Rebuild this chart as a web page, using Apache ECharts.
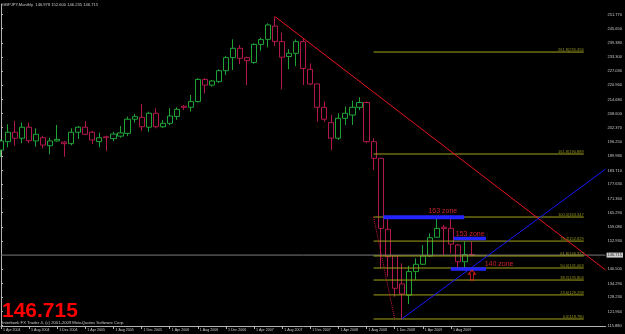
<!DOCTYPE html>
<html><head><meta charset="utf-8">
<script src="https://cdn.jsdelivr.net/npm/echarts@6/dist/echarts.min.js"></script>
<style>html,body{margin:0;padding:0;background:#000;}#c{width:625px;height:334px;}</style>
</head><body><div id="c"></div>
<script>
// ---- data ----
const months = ['Apr 2004','May 2004','Jun 2004','Jul 2004','Aug 2004','Sep 2004','Oct 2004','Nov 2004','Dec 2004',
'Jan 2005','Feb 2005','Mar 2005','Apr 2005','May 2005','Jun 2005','Jul 2005','Aug 2005','Sep 2005','Oct 2005','Nov 2005','Dec 2005',
'Jan 2006','Feb 2006','Mar 2006','Apr 2006','May 2006','Jun 2006','Jul 2006','Aug 2006','Sep 2006','Oct 2006','Nov 2006','Dec 2006',
'Jan 2007','Feb 2007','Mar 2007','Apr 2007','May 2007','Jun 2007','Jul 2007','Aug 2007','Sep 2007','Oct 2007','Nov 2007','Dec 2007',
'Jan 2008','Feb 2008','Mar 2008','Apr 2008','May 2008','Jun 2008','Jul 2008','Aug 2008','Sep 2008','Oct 2008','Nov 2008','Dec 2008',
'Jan 2009','Feb 2009','Mar 2009','Apr 2009','May 2009','Jun 2009','Jul 2009','Aug 2009','Sep 2009','Oct 2009','Nov 2009'];
const opens = [192.6,196.3,200.4,197.8,202.6,196.6,198.0,194.5,196.6,196.1,
195.4,200.4,202.6,200.4,196.3,198.4,197.6,198.7,199.9,206.1,
206.9,202.6,208.7,202.8,204.3,207.3,211.8,211.3,213.8,223.5,
221.0,222.5,227.3,233.0,237.1,233.0,230.9,238.8,241.0,246.8,
240.0,233.5,234.9,240.0,227.9,221.5,211.3,204.6,197.8,206.5,
207.9,211.3,213.4,196.3,189.0,158.0,146.3,134.1,129.2,139.5,
142.7,146.3,154.5,158.9,158.4,151.1,143.8,146.978];
const closes = [196.6,200.4,197.8,202.6,196.7,199.5,194.8,196.6,197.3,195.4,
200.4,202.6,199.5,197.0,198.0,198.0,199.6,200.1,206.1,207.2,
202.8,208.7,202.8,204.3,207.5,210.4,211.3,213.8,223.5,221.0,
222.8,227.3,233.0,237.1,232.7,231.7,238.8,240.9,247.3,240.0,
233.2,234.9,240.0,228.3,221.5,211.3,206.1,197.8,206.5,208.7,
211.3,213.4,196.3,189.0,158.4,146.0,132.2,129.7,139.5,142.7,
146.3,154.3,158.4,158.3,151.5,143.8,146.98,146.715];
const lows = [189.6,193.8,194.5,195.6,195.6,194.1,193.4,190.8,196.3,189.7,
194.7,197.5,199.2,195.3,193.8,192.3,196.5,198.0,198.7,204.6,
201.0,200.6,202.1,202.3,203.5,205.8,210.1,209.4,213.4,217.4,
220.3,222.0,225.4,227.6,230.2,221.0,230.3,236.0,237.5,238.1,
219.2,227.9,229.3,221.0,221.0,205.0,205.0,192.6,197.0,203.6,
203.6,210.1,195.6,183.9,140.9,137.3,128.5,118.78,125.3,135.8,
142.4,146.0,154.5,146.7,147.5,140.9,140.2,146.235];
const highs = [197.2,203.9,205.3,204.7,204.7,202.1,198.9,198.0,203.6,196.6,
202.1,203.1,205.3,201.0,200.2,198.9,200.6,203.1,207.2,208.4,
212.7,209.4,210.9,205.7,210.9,211.3,212.3,216.7,224.0,224.0,
223.2,227.9,233.7,241.0,238.5,233.4,239.3,241.7,248.0,250.9,
244.0,236.7,241.0,241.4,230.5,221.5,213.8,207.9,208.7,211.6,
214.2,215.7,213.8,197.8,189.0,163.2,146.3,143.1,142.0,145.3,
151.1,156.2,162.5,159.9,163.2,151.5,152.6,152.6];
const futureSlots = 19;
const xTickLabels = ['1 Apr 2004','1 Aug 2004','1 Dec 2004','1 Apr 2005','1 Aug 2005','1 Dec 2005','1 Apr 2006','1 Aug 2006',
'1 Dec 2006','1 Apr 2007','1 Aug 2007','1 Dec 2007','1 Apr 2008','1 Aug 2008','1 Dec 2008','1 Apr 2009','1 Aug 2009'];
const yTickValues = [251.770,245.650,239.380,233.300,227.030,220.960,214.680,208.600,202.370,196.250,189.980,
183.710,177.630,171.360,165.290,159.080,152.930,140.500,134.290,128.230,121.960,115.880];
const bidPrice = 146.715;
const titleText = 'GBPJPY,Monthly  146.978 152.600 146.235 146.715';
// Fibonacci retracement
const fibLevels = [0.0, 23.6, 38.2, 50.0, 61.8, 76.4, 100.0, 161.8, 261.8];
const fibPrices = [118.780, 129.298, 135.804, 141.063, 146.322, 152.829, 163.347, 190.889, 235.456];
const fibStart = 53, fibEnd = 82.9;
const fibAnchorLine = [[53, 163.347], [56, 118.780]];
// trend lines (bar index, price)
const redTrend = [[39, 250.9], [86, 140.2]];
const blueTrend = [[57, 118.78], [86, 184.3]];
// zones
const zoneNames = ['163 zone', '153 zone', '140 zone'];
const zoneLines = [[[54.4, 163.3], [65.9, 163.3]], [[64.4, 154.0], [69.0, 154.0]], [[64.0, 140.6], [69.0, 140.6]]];
const zoneLabelPos = [[60.8, 165.8], [64.7, 155.7], [68.8, 142.6]];
const arrowPos = [67, 138.0];

// ---- build ----
const cats = months.slice();
for (let k = 1; k <= futureSlots; k++) cats.push('f' + k);
const candles = months.map((m, i) => [opens[i], closes[i], lows[i], highs[i]]);
const nMax = cats.length - 1;
const FONT = 'Liberation Sans';
const fibColor = '#a3a31c';

const series = [];
series.push({
  type: 'candlestick', xAxisIndex: 0, yAxisIndex: 0, data: candles, barWidth: 5.6,
  itemStyle: { color: '#000', color0: '#000', borderColor: '#1fa336', borderColor0: '#b0184c', borderWidth: 1 },
  silent: true
});
function seg(data, color, width, type) {
  series.push({ type: 'line', xAxisIndex: 1, yAxisIndex: 0, data: data, symbol: 'none', silent: true,
    lineStyle: { color: color, width: width, type: type || 'solid' }, z: 3 });
}
seg([[0, bidPrice], [nMax, bidPrice]], '#7c7c7c', 1);
fibPrices.forEach(p => seg([[fibStart, p], [fibEnd, p]], fibColor, 1));
seg(fibAnchorLine, '#c8143c', 1, 'dotted');
seg(redTrend, '#e8141e', 1);
seg(blueTrend, '#1818ff', 1);
zoneLines.forEach((z, k) => seg(z, '#2424ff', k === 0 ? 4 : 3.5));
series.push({ type: 'scatter', xAxisIndex: 1, yAxisIndex: 0, symbolSize: 0, silent: true, z: 5,
  data: fibPrices.map((p, k) => ({ value: [fibEnd, p], name: fibLevels[k].toFixed(1) + ')' + p.toFixed(3) })),
  label: { show: true, position: 'left', distance: 0, offset: [0, -2.5], formatter: d => d.name,
    color: '#b8b820', fontFamily: FONT, fontSize: 4 } });
series.push({ type: 'scatter', xAxisIndex: 1, yAxisIndex: 0, symbolSize: 0, silent: true, z: 6,
  data: zoneLabelPos.map((p, k) => ({ value: p, name: zoneNames[k] })),
  label: { show: true, position: 'right', distance: 0, formatter: d => d.name,
    color: '#ff2a3a', fontFamily: FONT, fontSize: 7 } });
series.push({ type: 'scatter', xAxisIndex: 1, yAxisIndex: 0, silent: true, z: 6,
  data: [arrowPos], symbol: 'path://M5,0 L10,5 L7,5 L7,12 L3,12 L3,5 L0,5 Z', symbolSize: [7, 10],
  itemStyle: { color: 'rgba(0,0,0,0)', borderColor: '#ff2020', borderWidth: 1 } });
series.push({ type: 'scatter', xAxisIndex: 1, yAxisIndex: 0, symbolSize: 0, silent: true, z: 7,
  data: [[nMax, bidPrice]],
  label: { show: true, position: 'right', distance: 1, formatter: () => bidPrice.toFixed(3),
    color: '#000', backgroundColor: '#ffffff', padding: [1, 1, 0, 1], fontFamily: FONT, fontSize: 4 } });

const chart = echarts.init(document.getElementById('c'), null, { renderer: 'canvas' });
chart.setOption({
  backgroundColor: '#000000',
  animation: false,
  grid: { left: 1, right: 17, top: 4, bottom: 8 },
  xAxis: [{
    type: 'category', data: cats, boundaryGap: false,
    axisLine: { lineStyle: { color: '#b4b4b4', width: 1 } },
    axisTick: { show: true, length: 3, lineStyle: { color: '#b4b4b4' }, interval: (i) => i % 4 === 0 && i <= 64 },
    axisLabel: { color: '#c8c8c8', fontFamily: FONT, fontSize: 3.6, margin: 2, align: 'left', padding: [0, 0, 0, 2],
      interval: (i) => i % 4 === 0 && i <= 64,
      formatter: (v, i) => (i % 4 === 0 && xTickLabels[i / 4]) ? xTickLabels[i / 4] : '' },
    splitLine: { show: false }
  }, {
    type: 'value', min: 0, max: nMax, show: false
  }],
  yAxis: [{
    type: 'value', position: 'right', min: 115.72, max: 256.45, scale: true,
    axisLine: { show: true, lineStyle: { color: '#b4b4b4', width: 1 } },
    axisTick: { show: true, length: 2, lineStyle: { color: '#b4b4b4' }, customValues: yTickValues },
    axisLabel: { color: '#c8c8c8', fontFamily: FONT, fontSize: 4, margin: 2, customValues: yTickValues,
      formatter: v => v.toFixed(3) },
    splitLine: { show: false }
  }],
  graphic: [
    { type: 'text', left: 2, top: 3, style: { text: titleText, fill: '#c8c8c8', font: '4.1px "Liberation Sans"' } },
    { type: 'text', left: 2, top: 301, style: { text: bidPrice.toFixed(3), fill: '#ff0000', font: 'bold 21px "Liberation Sans"' } },
    { type: 'text', left: 2, top: 320.5, style: { text: 'Interbank FX Trader 4, (c) 2001-2009 MetaQuotes Software Corp.', fill: '#c8c8c8', font: '4.2px "Liberation Sans"' } }
  ],
  series: series
});
</script></body></html>
